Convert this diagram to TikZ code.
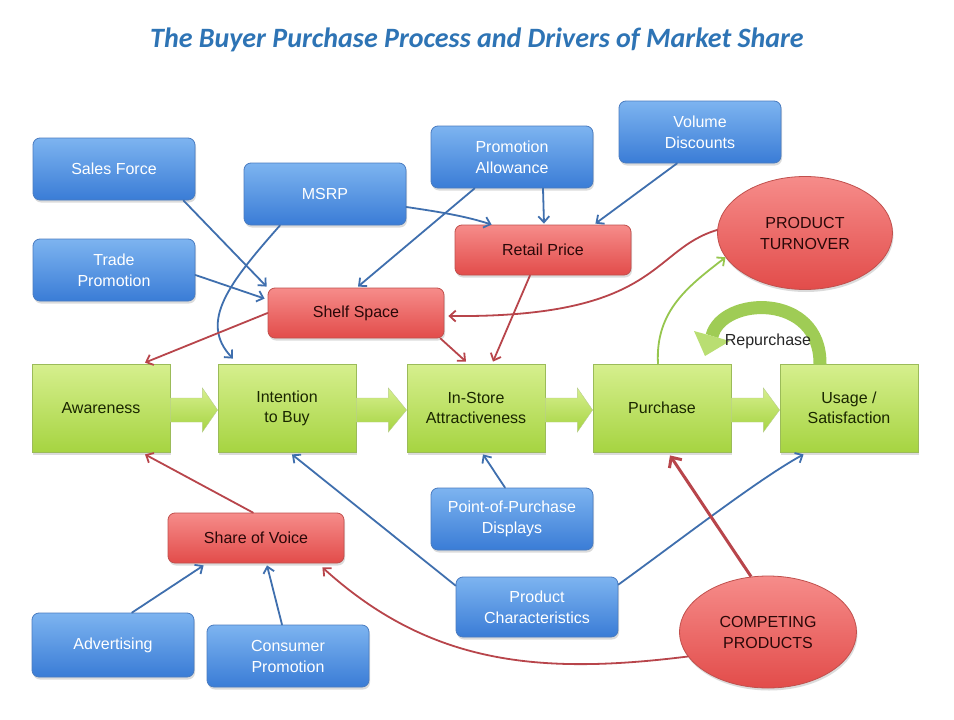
\documentclass[tikz,border=0pt]{standalone}
\usepackage{fontspec}
\setmainfont{Liberation Sans}
\newfontfamily\titlefont{Carlito}
\usetikzlibrary{arrows.meta,shapes.geometric,calc,shadows}
\definecolor{titleblue}{HTML}{2E74B5}
\definecolor{bluetop}{HTML}{7DB4F0}
\definecolor{bluebot}{HTML}{3A7CD6}
\definecolor{blueborder}{HTML}{4A7CC0}
\definecolor{redtop}{HTML}{F68C8A}
\definecolor{redbot}{HTML}{E24C4A}
\definecolor{redborder}{HTML}{C0504D}
\definecolor{redtext}{HTML}{2A0808}
\definecolor{greentop}{HTML}{D6EF8E}
\definecolor{greenbot}{HTML}{A6D441}
\definecolor{greenborder}{HTML}{9BBB59}
\definecolor{greentext}{HTML}{1A2600}
\definecolor{conblue}{HTML}{3F6FAE}
\definecolor{conred}{HTML}{B8454B}
\definecolor{congreen}{HTML}{96C64E}
\definecolor{rpgreen}{HTML}{9FCC55}
\definecolor{rphead}{HTML}{B9DE72}
\newcommand{\blockarr}[2]{%
  \path[blockarrow] ($(#1.east)+(0,-10)$) -- ($(#1.east)+(32,-10)$) -- ($(#1.east)+(32,-20)$)
    -- ($(#2.west)+(0,2)$) -- ($(#1.east)+(32,24)$) -- ($(#1.east)+(32,14)$)
    -- ($(#1.east)+(0,14)$) -- cycle;}
\begin{document}
\begin{tikzpicture}[x=1pt,y=-1pt,
  boxfont/.style={font=\fontsize{16}{21}\selectfont},
  shad/.style={drop shadow={opacity=0.28,shadow xshift=1pt,shadow yshift=-2.5pt}},
  bluebox/.style={rectangle, rounded corners=7pt, inner sep=2pt, align=center, boxfont, shad,
     draw=blueborder, line width=0.8pt, top color=bluetop, bottom color=bluebot, text=white,
     minimum width=162pt, minimum height=62pt},
  redbox/.style={rectangle, rounded corners=7pt, inner sep=2pt, align=center, boxfont, shad,
     draw=redborder, line width=0.8pt, top color=redtop, bottom color=redbot, text=redtext,
     minimum width=176pt, minimum height=50pt},
  greenbox/.style={rectangle, inner sep=2pt, align=center, font=\fontsize{16}{20}\selectfont, shad,
     draw=greenborder, line width=0.8pt, top color=greentop, bottom color=greenbot, text=greentext,
     minimum width=138pt, minimum height=88pt},
  redell/.style={ellipse, inner sep=0pt, align=center, boxfont, shad,
     draw=redborder, line width=0.8pt, top color=redtop, bottom color=redbot, text=redtext,
     minimum width=175pt, minimum height=113pt},
  blockarrow/.style={top color=greentop, bottom color=greenbot, draw=greenborder!70, line width=0.4pt},
  barrow/.style={draw=conblue, line width=1.8pt, line cap=round, -{Straight Barb[length=6pt,width=11pt]}},
  rarrow/.style={draw=conred, line width=1.8pt, line cap=round, -{Straight Barb[length=6pt,width=11pt]}},
  garrow/.style={draw=congreen, line width=1.8pt, line cap=round, -{Straight Barb[length=6pt,width=11pt]}},
]
\useasboundingbox (0,0) rectangle (954,720);
\fill[white] (0,0) rectangle (954,720);

% title
\node[font=\titlefont\bfseries\itshape\fontsize{28}{32}\selectfont, text=titleblue] (title) at (477,40)
  {The Buyer Purchase Process and Drivers of Market Share};

% blue boxes
\node[bluebox] (sales) at (114,169) {Sales Force};
\node[bluebox] (msrp) at (325,194) {MSRP};
\node[bluebox] (trade) at (114,270) {Trade\\Promotion};
\node[bluebox] (promallow) at (512,157) {Promotion\\Allowance};
\node[bluebox] (voldisc) at (700,132) {Volume\\Discounts};
\node[bluebox] (pop) at (512,519) {Point-of-Purchase\\Displays};
\node[bluebox, minimum height=60pt] (prodchar) at (537,607) {Product\\Characteristics};
\node[bluebox, minimum height=64pt] (adv) at (113,645) {Advertising};
\node[bluebox] (consumer) at (288,656) {Consumer\\Promotion};

% red boxes
\node[redbox] (shelf) at (356,313) {Shelf Space};
\node[redbox] (retail) at (543,250) {Retail Price};
\node[redbox] (share) at (256,538) {Share of Voice};

% ellipses
\node[redell] (pt) at (805,233) {PRODUCT\\TURNOVER};
\node[redell, minimum width=177pt, minimum height=112pt] (cp) at (768,632) {COMPETING\\PRODUCTS};

% green process boxes
\node[greenbox] (aware) at (101,408) {Awareness};
\node[greenbox] (intent) at (287,408) {Intention\\to Buy};
\node[greenbox] (instore) at (476,408) {In-Store\\Attractiveness};
\node[greenbox] (purchase) at (662,408) {Purchase};
\node[greenbox] (usage) at (849,408) {Usage /\\Satisfaction};

% block arrows
\blockarr{aware}{intent}
\blockarr{intent}{instore}
\blockarr{instore}{purchase}
\blockarr{purchase}{usage}

% repurchase arrow
\coordinate (rpbase) at (712,336);
\coordinate (rptip) at (705,356);
\draw[line width=13pt, draw=rpgreen]
  ($(usage.north)+(-29,1)$) .. controls (821,292) and (722,296) .. (rpbase);
\fill[rphead] ($(rpbase)+(18,5)$) -- (rptip) -- ($(rpbase)+(-18,-5)$) -- cycle;
\node[font=\fontsize{16}{20}\selectfont, text=black!85, inner sep=0pt] (rplabel) at (768,341) {Repurchase};

% blue connectors
\draw[barrow] ($(sales.south east)+(-12,0)$) -- ($(shelf.north west)+(-1,-1)$);
\draw[barrow] ($(trade.east)+(0,5)$) -- ($(shelf.north west)+(-3,11)$);
\draw[barrow] ($(msrp.south)+(-45,0)$) .. controls (230,282) and (198,322) .. ($(intent.north)+(-54,-5)$);
\draw[barrow] ($(msrp.east)+(0,13)$) .. controls (440,212) and (465,216) .. ($(retail.north west)+(37,0)$);
\draw[barrow] ($(promallow.south west)+(44,0)$) -- ($(shelf.north)+(2,-1)$);
\draw[barrow] ($(promallow.south)+(31,0)$) -- ($(retail.north)+(1,-1)$);
\draw[barrow] ($(voldisc.south)+(-23,0)$) -- ($(retail.north east)+(-36,-1)$);
\draw[barrow] ($(pop.north)+(-7,0)$) -- ($(instore.south)+(7,2)$);
\draw[barrow] ($(prodchar.north west)+(0,9)$) -- ($(intent.south)+(5,2)$);
\draw[barrow] ($(prodchar.north east)+(0,8)$) .. controls (680,540) and (760,478) .. ($(usage.south west)+(24,2)$);
\draw[barrow] ($(adv.north)+(19,0)$) -- ($(share.south west)+(36,2)$);
\draw[barrow] ($(consumer.north)+(-6,0)$) -- ($(share.south)+(11,2)$);

% red connectors
\draw[rarrow] (shelf.west) -- ($(aware.north)+(44,-1)$);
\draw[rarrow] ($(shelf.south east)+(-4,0)$) -- ($(instore.north)+(-10,-2)$);
\draw[rarrow] ($(retail.south)+(-13,0)$) -- ($(instore.north)+(17,-2)$);
\draw[rarrow] (pt.178) .. controls (650,250) and (660,318) .. ($(shelf.east)+(4,3)$);
\draw[rarrow] ($(share.north)+(-3,0)$) -- ($(aware.south)+(44,2)$);
\draw[rarrow] (cp.197) .. controls (540,675) and (430,665) .. ($(share.south east)+(-22,4)$);
\draw[draw=conred, line width=3pt, -{Straight Barb[length=8pt,width=15pt]}] (cp.107) -- ($(purchase.south)+(8,3)$);

% green connector
\draw[garrow] ($(purchase.north)+(-4,0)$) .. controls (655,310) and (690,285) .. (pt.197);
\end{tikzpicture}
\end{document}
